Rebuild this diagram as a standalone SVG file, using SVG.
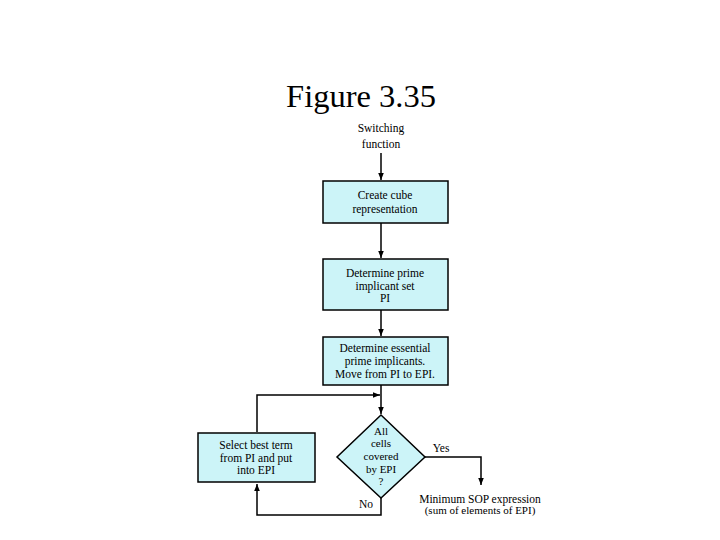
<svg xmlns="http://www.w3.org/2000/svg" width="720" height="540" viewBox="0 0 720 540">
<defs>
<marker id="ah" viewBox="0 0 10 10" refX="10" refY="5" markerWidth="7" markerHeight="7" markerUnits="userSpaceOnUse" orient="auto">
<path d="M0,1 L10,5 L0,9 Z" fill="#000"/>
</marker>
</defs>
<style>
text{font-family:"Liberation Serif","Times New Roman",serif;fill:#000;text-anchor:middle}
.t{font-size:11.5px}
.s{font-size:11px}
.box{fill:#ccf4f8;stroke:#000;stroke-width:1.5}
.c{fill:none;stroke:#000;stroke-width:1.5}
</style>
<rect width="720" height="540" fill="#fff"/>
<text x="361" y="107" style="font-size:32.5px">Figure 3.35</text>
<g id="start">
<text class="t" x="381" y="132">Switching</text>
<text class="t" x="381" y="148">function</text>
</g>
<g id="connectors">
<line class="c" x1="381" y1="153" x2="381" y2="180" marker-end="url(#ah)"/>
<line class="c" x1="381" y1="223" x2="381" y2="258" marker-end="url(#ah)"/>
<line class="c" x1="381" y1="310" x2="381" y2="336" marker-end="url(#ah)"/>
<line class="c" x1="381" y1="385" x2="381" y2="414" marker-end="url(#ah)"/>
<polyline class="c" points="257,432 257,395 380,395" marker-end="url(#ah)"/>
<polyline class="c" points="425,457 481,457 481,485" marker-end="url(#ah)"/>
<polyline class="c" points="381,498 381,515 257,515 257,484" marker-end="url(#ah)"/>
<text class="t" x="441" y="452">Yes</text>
<text class="t" x="366" y="508">No</text>
</g>
<g id="n1">
<rect class="box" x="323" y="181" width="125" height="42"/>
<text class="t" x="385" y="199">Create cube</text>
<text class="t" x="385" y="213">representation</text>
</g>
<g id="n2">
<rect class="box" x="323" y="259" width="125" height="51"/>
<text class="t" x="385" y="277">Determine prime</text>
<text class="t" x="385" y="289.5">implicant set</text>
<text class="t" x="385" y="302">PI</text>
</g>
<g id="n3">
<rect class="box" x="323" y="337" width="125" height="48"/>
<text class="t" x="385" y="352">Determine essential</text>
<text class="t" x="385" y="365">prime implicants.</text>
<text class="t" x="385" y="378">Move from PI to EPI.</text>
</g>
<g id="n4">
<polygon class="box" points="381,415 425,457 381,498 337,457"/>
<text class="s" x="381" y="435">All</text>
<text class="s" x="381" y="447">cells</text>
<text class="s" x="381" y="460">covered</text>
<text class="s" x="381" y="473">by EPI</text>
<text class="s" x="381" y="485">?</text>
</g>
<g id="n5">
<rect class="box" x="198" y="433" width="117" height="49"/>
<text class="t" x="256" y="449">Select best term</text>
<text class="t" x="256" y="461.5">from PI and put</text>
<text class="t" x="256" y="474">into EPI</text>
</g>
<g id="end">
<text class="t" x="480" y="503">Minimum SOP expression</text>
<text class="s" x="480" y="514">(sum of elements of EPI)</text>
</g>
</svg>
